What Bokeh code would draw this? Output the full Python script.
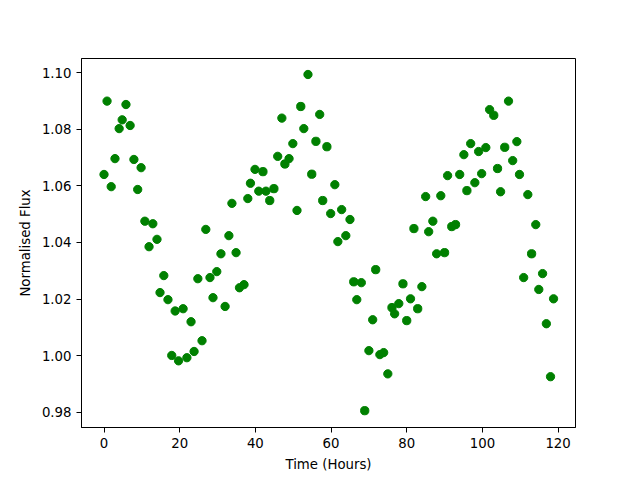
from bokeh.plotting import figure
from bokeh.models import FixedTicker, NumeralTickFormatter, Range1d
from bokeh.embed import file_html
from bokeh.resources import INLINE

time_hours = [0.0, 0.8, 1.9, 2.9, 4.0, 4.8, 5.8, 6.9, 7.9, 8.9, 9.8, 10.8, 11.9, 12.9, 14.0, 14.8, 15.8, 16.9, 17.9, 18.8,
              19.7, 20.9, 21.9, 23.0, 23.8, 24.8, 25.9, 26.9, 28.0, 28.8, 29.8, 30.9, 32.0, 33.0, 33.8, 34.9, 35.8, 37.0, 38.0, 38.7,
              39.9, 40.9, 42.0, 42.8, 43.8, 44.9, 45.9, 47.0, 47.8, 48.9, 49.9, 51.0, 52.0, 52.8, 53.9, 54.9, 56.0, 57.0, 57.8, 58.9, 59.9,
              61.0, 61.8, 62.8, 63.9, 65.0, 66.0, 66.8, 68.0, 68.9, 70.0, 71.0, 71.8, 72.9, 73.9, 75.0, 76.1, 76.8, 77.9, 79.0, 80.0,
              81.0, 81.9, 82.9, 84.0, 85.0, 85.8, 86.9, 87.9, 89.0, 90.0, 90.8, 91.9, 92.9, 94.0, 95.1, 95.9, 96.9, 98.0, 99.0, 99.8, 100.9,
              101.9, 103.0, 104.0, 104.8, 105.9, 106.9, 108.0, 109.1, 109.8, 110.9, 112.0, 113.0, 114.1, 114.9, 115.9, 116.9, 118.0, 118.8]

flux = [1.0640, 1.0899, 1.0597, 1.0696, 1.0802, 1.0833, 1.0887, 1.0813, 1.0693, 1.0587,
        1.0664, 1.0475, 1.0385, 1.0466, 1.0411, 1.0223, 1.0283, 1.0198, 1.0001, 1.0158,
        0.9982, 1.0166, 0.9993, 1.0120, 1.0015, 1.0272, 1.0053, 1.0446, 1.0276, 1.0205,
        1.0297, 1.0360, 1.0174, 1.0424, 1.0538, 1.0364, 1.0240, 1.0251, 1.0555, 1.0609,
        1.0658, 1.0581, 1.0650, 1.0581, 1.0548, 1.0590, 1.0704, 1.0839, 1.0677, 1.0696,
        1.0749, 1.0513, 1.0880, 1.0802, 1.0993, 1.0641, 1.0757, 1.0852, 1.0548, 1.0738, 1.0502,
        1.0604, 1.0403, 1.0516, 1.0424, 1.0481, 1.0261, 1.0198, 1.0258, 0.9806, 1.0018,
        1.0127, 1.0304, 1.0004, 1.0011, 0.9936, 1.0170, 1.0148, 1.0184, 1.0254, 1.0124,
        1.0201, 1.0449, 1.0166, 1.0244, 1.0562, 1.0438, 1.0475, 1.0360, 1.0565, 1.0364,
        1.0636, 1.0456, 1.0463, 1.0640, 1.0710, 1.0583, 1.0749, 1.0611, 1.0721, 1.0643, 1.0735,
        1.0869, 1.0849, 1.0661, 1.0579, 1.0736, 1.0899, 1.0689, 1.0756, 1.0640, 1.0276,
        1.0569, 1.0360, 1.0463, 1.0234, 1.0290, 1.0113, 0.9926, 1.0201]

x_ticks = [0, 20, 40, 60, 80, 100, 120]
y_ticks = [0.98, 1.00, 1.02, 1.04, 1.06, 1.08, 1.10]

FONT = "DejaVu Sans"

p = figure(width=640, height=480, output_backend="svg", toolbar_location=None,
           x_range=Range1d(-5.95, 124.6), y_range=Range1d(0.97466, 1.10495),
           min_border_left=81, min_border_right=65, min_border_top=58, min_border_bottom=53)
p.background_fill_color = "white"
p.border_fill_color = "white"
p.outline_line_color = "black"
p.outline_line_width = 1
p.grid.visible = False

p.scatter(time_hours, flux, size=8.3, color="#008000", line_color="#008000")

p.xaxis.ticker = FixedTicker(ticks=x_ticks)
p.yaxis.ticker = FixedTicker(ticks=y_ticks)
p.yaxis.formatter = NumeralTickFormatter(format="0.00")
p.xaxis.axis_label = "Time (Hours)"
p.yaxis.axis_label = "Normalised Flux"

for ax in (p.xaxis, p.yaxis):
    ax.axis_line_color = "black"
    ax.major_tick_line_color = "black"
    ax.major_tick_out = 5
    ax.major_tick_in = 0
    ax.minor_tick_line_color = None
    ax.major_label_text_font = FONT
    ax.major_label_text_font_size = "13.3px"
    ax.major_label_text_color = "black"
    ax.axis_label_text_font = FONT
    ax.axis_label_text_font_size = "13.3px"
    ax.axis_label_text_font_style = "normal"
    ax.axis_label_text_color = "black"
    ax.major_label_standoff = 5
    ax.axis_label_standoff = 6

open("out.html", "w").write(file_html(p, INLINE))
